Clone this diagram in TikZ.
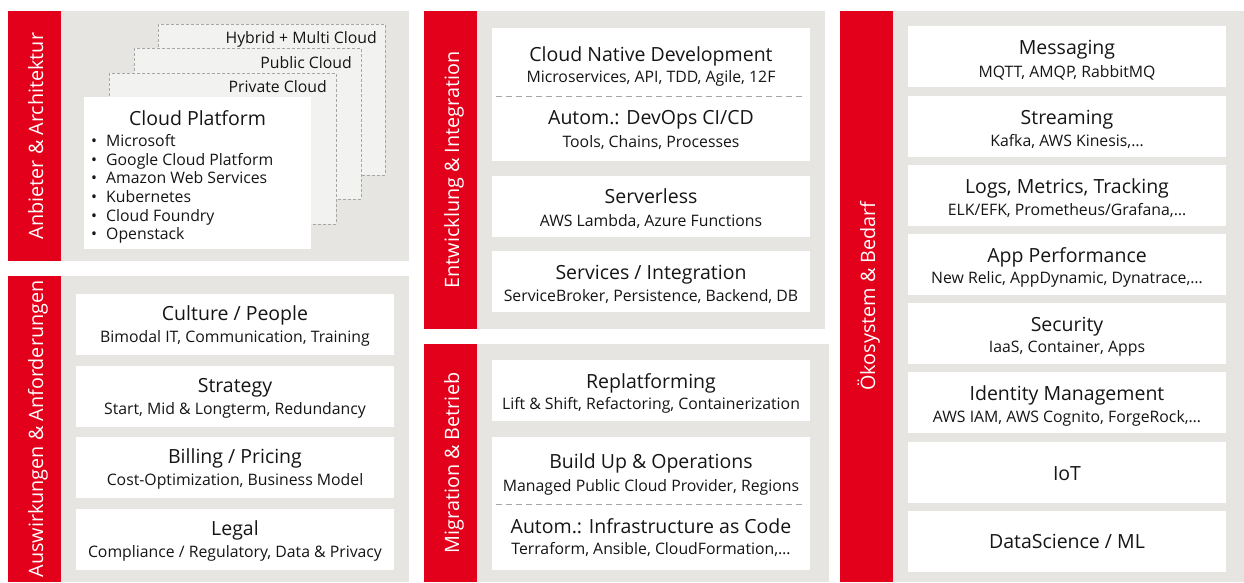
\documentclass[tikz,border=0pt]{standalone}
\usepackage{fontspec}
\setmainfont{Open Sans}
\definecolor{dbred}{HTML}{E2001A}
\definecolor{panelgray}{HTML}{E6E5E1}
\definecolor{cloudgray}{HTML}{F2F2F0}
\definecolor{ink}{HTML}{151515}

\begin{document}
\begin{tikzpicture}[x=1pt,y=1pt]
    \tikzstyle{every node}+=[inner sep=0pt, text=ink]
    \tikzstyle{head}=[font=\fontsize{19.5}{23}\selectfont, anchor=base]
    \tikzstyle{sub}=[font=\fontsize{15.8}{18}\selectfont, anchor=base]
    \tikzstyle{item}=[font=\fontsize{15.8}{18}\selectfont, anchor=base west]
    \tikzstyle{side}=[font=\fontsize{19.8}{22}\selectfont, text=white, rotate=90, anchor=base]
    \tikzstyle{cloudbox}=[fill=cloudgray, draw=black!35, dash pattern=on 3pt off 2pt, line width=0.8pt]
    \tikzstyle{splitline}=[draw=black!35, dash pattern=on 6pt off 4pt, line width=0.8pt]
    \useasboundingbox (0,0) rectangle (1244,-582);
    \fill [white] (0,0) rectangle (1244,-582);
    \fill [panelgray] (61,-11) rectangle (409,-261);
    \fill [dbred] (8,-11) rectangle (61,-261);
    \fill [panelgray] (61,-276) rectangle (409,-582);
    \fill [dbred] (8,-276) rectangle (61,-582);
    \fill [panelgray] (477,-11) rectangle (825,-329);
    \fill [dbred] (424,-11) rectangle (477,-329);
    \fill [panelgray] (477,-344) rectangle (829,-582);
    \fill [dbred] (424,-344) rectangle (477,-582);
    \fill [panelgray] (893,-11) rectangle (1244,-582);
    \fill [dbred] (840,-11) rectangle (893,-582);
    \node (arch) [side] at (43,-136) {Anbieter \& Architektur};
    \node (req) [side] at (43,-429) {Auswirkungen \& Anforderungen};
    \node (dev) [side] at (459,-170) {Entwicklung \& Integration};
    \node (ops) [side] at (459,-463) {Migration \& Betrieb};
    \node (eco) [side] at (875,-296) {Ökosystem \& Bedarf};
    \draw [cloudbox] (158,-24) rectangle (385,-175);
    \node (hybrid) [item, anchor=base east] at (377,-43) {Hybrid + Multi Cloud};
    \draw [cloudbox] (134,-48) rectangle (361,-199);
    \node (public) [item, anchor=base east] at (352,-68) {Public Cloud};
    \draw [cloudbox] (109,-73) rectangle (336,-224);
    \node (private) [item, anchor=base east] at (327,-92) {Private Cloud};
    \fill [white] (84,-97) rectangle (311,-249);
    \node (platform) [head] at (197.5,-125) {Cloud Platform};
    \node (ms) [item] at (91,-146) {\makebox[15pt][l]{\textbullet}Microsoft};
    \node (gcp) [item] at (91,-165) {\makebox[15pt][l]{\textbullet}Google Cloud Platform};
    \node (aws) [item] at (91,-183) {\makebox[15pt][l]{\textbullet}Amazon Web Services};
    \node (k8s) [item] at (91,-202) {\makebox[15pt][l]{\textbullet}Kubernetes};
    \node (cf) [item] at (91,-221) {\makebox[15pt][l]{\textbullet}Cloud Foundry};
    \node (os) [item] at (91,-239) {\makebox[15pt][l]{\textbullet}Openstack};
    \fill [white] (76,-294) rectangle (394,-355);
    \node (culture) [head] at (235,-320) {Culture / People};
    \node (culture-s) [sub] at (235,-342) {Bimodal IT, Communication, Training};
    \fill [white] (76,-366) rectangle (394,-427);
    \node (strategy) [head] at (235,-392) {Strategy};
    \node (strategy-s) [sub] at (235,-414) {Start, Mid \& Longterm, Redundancy};
    \fill [white] (76,-437) rectangle (394,-498);
    \node (billing) [head] at (235,-463) {Billing / Pricing};
    \node (billing-s) [sub] at (235,-485) {Cost-Optimization, Business Model};
    \fill [white] (76,-509) rectangle (394,-570);
    \node (legal) [head] at (235,-535) {Legal};
    \node (legal-s) [sub] at (235,-557) {Compliance / Regulatory, Data \& Privacy};
    \fill [white] (492,-28) rectangle (810,-161);
    \node (native) [head] at (651,-61) {Cloud Native Development};
    \node (native-s) [sub] at (651,-82) {Microservices, API, TDD, Agile, 12F};
    \draw [splitline] (496,-96) -- (806,-96);
    \node (devops) [head] at (651,-124) {Autom.: DevOps CI/CD};
    \node (devops-s) [sub] at (651,-147) {Tools, Chains, Processes};
    \fill [white] (492,-176) rectangle (810,-237);
    \node (serverless) [head] at (651,-203) {Serverless};
    \node (serverless-s) [sub] at (651,-226) {AWS Lambda, Azure Functions};
    \fill [white] (492,-251) rectangle (810,-312);
    \node (services) [head] at (651,-279) {Services / Integration};
    \node (services-s) [sub] at (651,-301) {ServiceBroker, Persistence, Backend, DB};
    \fill [white] (492,-360) rectangle (810,-421);
    \node (replat) [head] at (651,-388) {Replatforming};
    \node (replat-s) [sub] at (651,-409) {Lift \& Shift, Refactoring, Containerization};
    \fill [white] (492,-437) rectangle (810,-570);
    \node (buildup) [head] at (651,-468) {Build Up \& Operations};
    \node (buildup-s) [sub] at (651,-491) {Managed Public Cloud Provider, Regions};
    \draw [splitline] (496,-504) -- (806,-504);
    \node (iac) [head] at (651,-533) {Autom.: Infrastructure as Code};
    \node (iac-s) [sub] at (651,-554) {Terraform, Ansible, CloudFormation,\dots};
    \fill [white] (908,-26) rectangle (1226,-87);
    \node (msg) [head] at (1067,-54) {Messaging};
    \node (msg-s) [sub] at (1067,-77) {MQTT, AMQP, RabbitMQ};
    \fill [white] (908,-96) rectangle (1226,-157);
    \node (stream) [head] at (1067,-124) {Streaming};
    \node (stream-s) [sub] at (1067,-146) {Kafka, AWS Kinesis,\dots};
    \fill [white] (908,-165) rectangle (1226,-226);
    \node (logs) [head] at (1067,-193) {Logs, Metrics, Tracking};
    \node (logs-s) [sub] at (1067,-215) {ELK/EFK, Prometheus/Grafana,\dots};
    \fill [white] (908,-234) rectangle (1226,-295);
    \node (apm) [head] at (1067,-262) {App Performance};
    \node (apm-s) [sub] at (1067,-283) {New Relic, AppDynamic, Dynatrace,\dots};
    \fill [white] (908,-303) rectangle (1226,-364);
    \node (sec) [head] at (1067,-331) {Security};
    \node (sec-s) [sub] at (1067,-352) {IaaS, Container, Apps};
    \fill [white] (908,-372) rectangle (1226,-433);
    \node (idm) [head] at (1067,-400) {Identity Management};
    \node (idm-s) [sub] at (1067,-422) {AWS IAM, AWS Cognito, ForgeRock,\dots};
    \fill [white] (908,-442) rectangle (1226,-503);
    \node (iot) [head] at (1067,-480) {IoT};
    \fill [white] (908,-511) rectangle (1226,-572);
    \node (ds) [head] at (1067,-548) {DataScience / ML};
\end{tikzpicture}
\end{document}
